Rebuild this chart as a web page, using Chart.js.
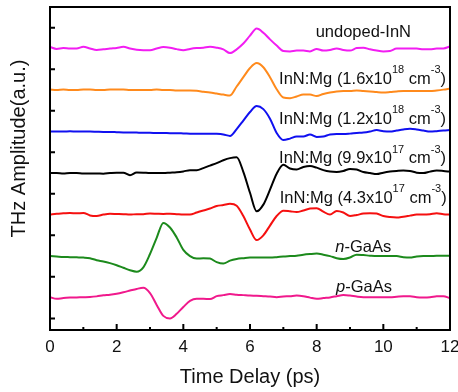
<!DOCTYPE html>
<html>
<head>
<meta charset="utf-8">
<script src="https://cdn.jsdelivr.net/npm/chart.js@4.4.1/dist/chart.umd.min.js"></script>
<style>
  html, body { margin: 0; padding: 0; background: #fff; }
  canvas { display: block; }
</style>
</head>
<body>
<canvas id="thzChart" width="458" height="392"></canvas>
<script>
// time axis (ps)
const timeDelay = [
  0, 0.2, 0.4, 0.6, 0.8, 1, 1.2, 1.4, 1.6, 1.8,
  2, 2.2, 2.4, 2.6, 2.8, 3, 3.2, 3.4, 3.6, 3.8,
  4, 4.2, 4.4, 4.6, 4.8, 5, 5.2, 5.4, 5.6, 5.8,
  6, 6.2, 6.4, 6.6, 6.8, 7, 7.2, 7.4, 7.6, 7.8,
  8, 8.2, 8.4, 8.6, 8.8, 9, 9.2, 9.4, 9.6, 9.8,
  10, 10.2, 10.4, 10.6, 10.8, 11, 11.2, 11.4, 11.6, 11.8,
  12
];

// THz amplitude of each sample (a.u., before vertical offset)
const undopedInN = [
  0.4, -0.1, 0.1, 0, 0, 0.4, 0, -0.35, -0.2, 0,
  0.15, 0.4, 0, -0.3, -0.4, -0.4, 0, 0.35, 0.2, -0.15,
  -0.4, -0.1, 0.1, 0.2, 0.4, 0.2, -0.2, -1.1, -0.2, 1.2,
  3.1, 4.8, 3.8, 2.2, 0.7, -0.6, -0.7, -0.5, -0.5, -0.7,
  -0.1, -0.5, -0.35, 0, -0.35, -0.5, 0.1, 0.2, -0.2, -0.5,
  -0.7, -0.6, 0, 0, 0, 0, -0.2, -0.2, 0, 0,
  0.5
];
const mg16e18 = [
  0.1, 0, 0.1, 0, 0, 0.1, 0.1, 0, 0, 0.1,
  0.1, 0.1, 0, 0, 0, 0, 0.1, 0, 0, -0.1,
  -0.1, -0.1, -0.2, -0.4, -0.6, -0.85, -1.1, -1.3, 0.85, 3.1,
  5.3, 6.5, 5.5, 3.1, 0.2, -1.8, -1.95, -1.55, -1.1, -1.1,
  -1.45, -0.95, -0.6, -0.35, -0.25, -0.25, -0.1, -0.25, -0.35, -0.5,
  -0.6, -0.5, -0.35, -0.25, -0.25, -0.25, -0.25, -0.25, -0.1, 0.1,
  0.35
];
const mg12e18 = [
  0, 0, 0, 0.05, 0, 0, 0, -0.05, -0.1, -0.1,
  -0.15, -0.2, -0.2, -0.25, -0.3, -0.3, -0.35, -0.35, -0.4, -0.4,
  -0.45, -0.5, -0.55, -0.55, -0.5, -0.55, -0.7, -1.05, 0.6, 2.65,
  4.7, 6.15, 5.4, 3.1, -0.35, -2.05, -1.7, -1.2, -1.2, -0.7,
  -1.3, -1.2, -0.7, -0.6, -0.6, -0.5, -0.35, -0.25, 0, 0.35,
  0.1, 0, 0.25, 0.5, 0.65, 0.5, 0.25, 0, 0.1, 0.25,
  0.35
];
const mg99e17 = [
  0, 0, -0.1, 0, 0, -0.1, -0.1, -0.1, -0.15, 0,
  0.1, 0.1, -0.5, 0.15, 0.1, 0, 0, 0, 0.1, 0.2,
  0.4, 0.7, 0.7, 1.2, 1.8, 2.4, 3.1, 3.6, 3.8, 0.3,
  -4.75, -9.2, -7.6, -4.0, -0.15, 2.0, 1.1, 0.85, 1.45, 1.7,
  1.3, 0.7, 0.35, 0.25, 0.5, 1.0, 0.85, 0.25, 0, -0.25,
  0.1, 0.35, 0.5, 0.6, 0.5, 0.1, 0, 0.35, 0.6, 0.5,
  0.35
];
const mg43e17 = [
  0, 0.2, 0.3, 0.4, 0.3, 0.4, -0.2, -0.35, 0, 0.2,
  0.15, 0.1, 0, 0.1, 0.1, 0.25, 0.2, 0.15, 0.2, 0.1,
  0, 0, 0.5, 1.0, 1.45, 2.05, 2.3, 2.6, 2.15, -0.35,
  -3.6, -6.15, -5.0, -2.65, -0.35, 0.95, 0.8, 0.6, 1.0, 1.45,
  1.55, 0.7, 0, 0.85, 0.5, -0.35, -0.1, 0.25, 0.35, 0.25,
  -0.35, -0.6, -0.7, -0.5, -0.25, 0, 0, 0.1, 0.35, 0.1,
  0
];
const nGaAs = [
  0, -0.1, -0.2, -0.25, -0.3, -0.35, -0.5, -1.0, -1.3, -1.7,
  -2.2, -2.8, -3.4, -3.75, -2.7, 0.5, 4.4, 8.0, 6.9, 4.5,
  1.5, 0, -0.6, -0.5, -0.6, -1.45, -1.8, -1.1, -0.7, -0.5,
  -0.35, -0.35, -0.35, -0.35, -0.25, -0.1, 0, 0.1, 0.35, 0.5,
  0.6, 0.35, 0, -0.5, -0.7, -0.35, 0.35, 0.25, 0.1, 0,
  0, 0, 0, -0.25, -0.35, -0.1, 0, 0, 0.1, 0.1,
  0.1
];
const pGaAs = [
  0.1, -0.3, -0.1, 0, 0.05, 0.1, 0.15, 0.3, 0.55, 0.7,
  0.95, 1.3, 1.7, 2.1, 2.35, 1.1, -1.75, -4.4, -5.0, -3.9,
  -2.25, -0.8, -0.3, -0.3, -0.35, 0.35, 0.6, 0.85, 0.7, 0.6,
  0.5, 0.45, 0.35, 0.25, 0.1, 0.25, 0.35, 0.5, 0.35, 0,
  -0.3, -0.1, 0.05, 0.35, 0.65, 0.5, 0.25, 0.1, 0.1, 0.1,
  0.1, 0.1, 0.2, 0.3, 0.3, 0.1, 0.05, 0.1, 0.3, 0.35,
  -0.15
];

// vertical offsets used to stack the traces
const seriesOffsets = [65, 55, 45, 35, 25, 15, 5];

// labels: ^{..} = superscript, *..* = italic
const sampleNames = [
  "undoped-InN",
  "InN:Mg (1.6x10^{18} cm^{-3})",
  "InN:Mg (1.2x10^{18} cm^{-3})",
  "InN:Mg (9.9x10^{17} cm^{-3})",
  "InN:Mg (4.3x10^{17} cm^{-3})",
  "*n*-GaAs",
  "*p*-GaAs"
];

const xMajorTicks = [0, 2, 4, 6, 8, 10, 12];
const xMinorTicks = [1, 3, 5, 7, 9, 11];
const yTicks = [0, 10, 20, 30, 40, 50, 60, 70];

const seriesValues = [undopedInN, mg16e18, mg12e18, mg99e17, mg43e17, nGaAs, pGaAs];
const seriesColors = ["#f21df2", "#ff8a1c", "#1010f0", "#000000", "#f51010", "#1c8a1c", "#f0198c"];

const FONT = "Arial, 'Liberation Sans', sans-serif";

// where each sample name sits, in data units (time, amplitude)
const labelSpots = [
  { t: 9.4, a: 67.8, align: "center" },
  { t: 11.88, a: 56.5, align: "right" },
  { t: 11.88, a: 46.9, align: "right" },
  { t: 11.88, a: 37.35, align: "right" },
  { t: 11.9, a: 27.8, align: "right" },
  { t: 9.4, a: 16.1, align: "center" },
  { t: 9.42, a: 6.45, align: "center" }
];

function drawRichText(ctx, text, px, py, align) {
  const parts = text.split(/(\^\{[^}]*\}|\*[^*]*\*)/).filter((s) => s);
  const pieces = parts.map((p) => {
    if (p.startsWith("^{")) return { s: p.slice(2, -1), font: "11px " + FONT, dy: -10.5 };
    if (p.startsWith("*")) return { s: p.slice(1, -1), font: "italic 16.5px " + FONT, dy: 0 };
    return { s: p, font: "16.5px " + FONT, dy: 0 };
  });
  let total = 0;
  pieces.forEach((p) => {
    ctx.font = p.font;
    p.w = ctx.measureText(p.s).width;
    total += p.w;
  });
  let cx = px;
  if (align === "right") cx = px - total;
  if (align === "center") cx = px - total / 2;
  pieces.forEach((p) => {
    ctx.font = p.font;
    ctx.fillText(p.s, cx, py + p.dy);
    cx += p.w;
  });
}

const framePlugin = {
  id: "frame",
  afterDraw(chart) {
    const { ctx, chartArea: a, scales } = chart;
    const x = scales.x;
    const y = scales.y;
    ctx.save();
    ctx.strokeStyle = "#000";
    ctx.fillStyle = "#111";

    // box
    ctx.lineWidth = 2;
    ctx.strokeRect(a.left, a.top, a.right - a.left, a.bottom - a.top);

    // inward tick marks
    ctx.beginPath();
    xMajorTicks.forEach((v) => {
      const px = x.getPixelForValue(v);
      ctx.moveTo(px, a.bottom);
      ctx.lineTo(px, a.bottom - 6);
    });
    xMinorTicks.forEach((v) => {
      const px = x.getPixelForValue(v);
      ctx.moveTo(px, a.bottom);
      ctx.lineTo(px, a.bottom - 3);
    });
    yTicks.forEach((v) => {
      const py = y.getPixelForValue(v);
      ctx.moveTo(a.left, py);
      ctx.lineTo(a.left + 5, py);
    });
    ctx.stroke();

    // sample names
    ctx.textAlign = "left";
    ctx.textBaseline = "alphabetic";
    sampleNames.forEach((name, i) => {
      const spot = labelSpots[i];
      drawRichText(ctx, name, x.getPixelForValue(spot.t), y.getPixelForValue(spot.a), spot.align);
    });

    // y axis title
    ctx.translate(25, (a.top + a.bottom) / 2 - 20);
    ctx.rotate(-Math.PI / 2);
    ctx.textAlign = "center";
    ctx.font = "20px " + FONT;
    ctx.fillText("THz Amplitude(a.u.)", 0, 0);
    ctx.restore();
  }
};

Chart.defaults.font.family = FONT;

new Chart(document.getElementById("thzChart"), {
  type: "line",
  data: {
    datasets: seriesValues.map((vals, i) => ({
      label: sampleNames[i],
      data: timeDelay.map((t, k) => ({ x: t, y: vals[k] + seriesOffsets[i] })),
      borderColor: seriesColors[i],
      borderWidth: 2,
      pointRadius: 0,
      cubicInterpolationMode: "monotone",
      fill: false
    }))
  },
  options: {
    responsive: false,
    animation: false,
    layout: { padding: { top: 7, right: 8, left: 0, bottom: 0 } },
    plugins: {
      legend: { display: false },
      tooltip: { enabled: false }
    },
    scales: {
      x: {
        type: "linear",
        min: 0,
        max: 12,
        afterBuildTicks: (scale) => {
          scale.ticks = xMajorTicks.map((v) => ({ value: v }));
        },
        ticks: { padding: 7, color: "#111", font: { size: 17 } },
        grid: { display: false, drawTicks: false },
        border: { display: false },
        title: {
          display: true,
          text: "Time Delay (ps)",
          color: "#111",
          font: { size: 20 },
          padding: { top: 0, bottom: 3 }
        },
        afterFit: (scale) => {
          scale.height = 62;
          scale.paddingLeft = 0;
          scale.paddingRight = 0;
        }
      },
      y: {
        min: -2.8,
        max: 75,
        ticks: { display: false },
        grid: { display: false, drawTicks: false },
        border: { display: false },
        afterFit: (scale) => {
          scale.width = 50;
        }
      }
    }
  },
  plugins: [framePlugin]
});
</script>
</body>
</html>
